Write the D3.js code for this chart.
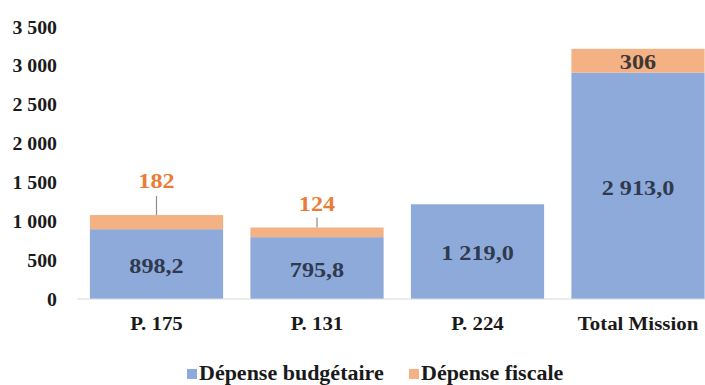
<!DOCTYPE html>
<html>
<head>
<meta charset="utf-8">
<script src="https://cdn.jsdelivr.net/npm/d3@7"></script>
<style>
  html, body { margin: 0; padding: 0; background: #fff; }
  svg { display: block; }
  text { font-family: 'Liberation Serif', serif; font-weight: bold; }
</style>
</head>
<body>
<svg id="chart" width="705" height="385"></svg>
<script>
// Programme spending, in M€
const categories = ["P. 175", "P. 131", "P. 224", "Total Mission"];
const budgetaire = [898.2, 795.8, 1219.0, 2913.0];
const fiscale = [182, 124, 0, 306];
const yTicks = [0, 500, 1000, 1500, 2000, 2500, 3000, 3500];
const seriesNames = ["Dépense budgétaire", "Dépense fiscale"];

const colors = { budget: "#8eaadb", fiscal: "#f4b183" };
const stretch = 1.1; // wide serif glyphs
const serif = "'Liberation Serif', serif";

const fr = d3.formatLocale({ decimal: ",", thousands: "\u00a0", grouping: [3], currency: ["", " €"] });
const fmtTick = fr.format(",d");
const fmtVal = fr.format(",.1f");
const fmtInt = fr.format(",d");

const svg = d3.select("#chart");

const x = d3.scaleBand()
  .domain(categories)
  .range([76.25, 718.25])
  .paddingInner(0.17)
  .paddingOuter(0.085);

const y = d3.scaleLinear().domain([0, 3500]).range([299, 27]);

// Value axis (labels only)
const yAxis = svg.append("g")
  .attr("transform", "translate(57,0)")
  .call(d3.axisLeft(y).tickValues(yTicks).tickFormat(fmtTick).tickSize(0).tickPadding(0));
yAxis.attr("font-family", null);
yAxis.select(".domain").remove();
yAxis.selectAll("text")
  .attr("x", 0)
  .attr("dy", "0.34em")
  .attr("transform", `scale(${stretch},1)`)
  .style("font-size", "18px")
  .style("font-family", serif)
  .style("font-weight", "bold")
  .attr("fill", "#1a1a1a");

const rows = categories.map((c, i) => ({ cat: c, b: budgetaire[i], f: fiscale[i] }));

// Stacked bars
svg.append("g").selectAll("rect")
  .data(rows).join("rect")
  .attr("x", d => x(d.cat))
  .attr("width", x.bandwidth())
  .attr("y", d => y(d.b))
  .attr("height", d => y(0) - y(d.b))
  .attr("fill", colors.budget);

svg.append("g").selectAll("rect")
  .data(rows.filter(d => d.f > 0)).join("rect")
  .attr("x", d => x(d.cat))
  .attr("width", x.bandwidth())
  .attr("y", d => y(d.b + d.f))
  .attr("height", d => y(d.b) - y(d.b + d.f))
  .attr("fill", colors.fiscal);

// Category axis
const xAxis = svg.append("g")
  .attr("transform", `translate(0,${y(0)})`)
  .call(d3.axisBottom(x).tickSize(0).tickPadding(0));
xAxis.attr("font-family", null);
xAxis.select(".domain").remove();
xAxis.append("line")
  .attr("x1", 77).attr("x2", 705)
  .attr("stroke", "#d9d9d9").attr("stroke-width", 1.2);
xAxis.selectAll(".tick text")
  .attr("y", 0).attr("dy", 0)
  .attr("transform", `translate(0,31) scale(${stretch},1)`)
  .style("font-size", "19px")
  .style("font-family", serif)
  .style("font-weight", "bold")
  .attr("fill", "#1a1a1a");

function stretchedText(g, px, py, str, size, fill) {
  return g.append("text")
    .attr("transform", `translate(${px},${py}) scale(${stretch},1)`)
    .attr("text-anchor", "middle")
    .attr("dy", "0.35em")
    .style("font-size", size + "px")
    .attr("fill", fill)
    .text(str);
}

const labels = svg.append("g");

// Budget values centred in the blue segment
rows.forEach(d => {
  const cx = x(d.cat) + x.bandwidth() / 2;
  stretchedText(labels, cx, (y(0) + y(d.b)) / 2 + 1, fmtVal(d.b), 22, "#2f3a4e");
});

// Fiscal values: callouts above small segments, inside the large one
const calloutRise = { "P. 175": 35, "P. 131": 24 };
const calloutLine = { "P. 175": 19, "P. 131": 10 };
rows.filter(d => d.f > 0).forEach(d => {
  const cx = x(d.cat) + x.bandwidth() / 2;
  const top = y(d.b + d.f);
  if (calloutRise[d.cat] !== undefined) {
    labels.append("line")
      .attr("x1", cx).attr("x2", cx)
      .attr("y1", top).attr("y2", top - calloutLine[d.cat])
      .attr("stroke", "#8c8c8c").attr("stroke-width", 1.2);
    stretchedText(labels, cx, top - calloutRise[d.cat], fmtInt(d.f), 22, "#ea7c36");
  } else {
    stretchedText(labels, cx, (y(d.b) + top) / 2 + 1, fmtInt(d.f), 22, "#3d3735");
  }
});

// Legend
const legend = svg.append("g");
const legendItems = [
  { name: seriesNames[0], color: colors.budget, x: 187 },
  { name: seriesNames[1], color: colors.fiscal, x: 409 }
];
legendItems.forEach(it => {
  legend.append("rect")
    .attr("x", it.x).attr("y", 369)
    .attr("width", 10).attr("height", 10)
    .attr("fill", it.color);
  legend.append("text")
    .attr("transform", `translate(${it.x + 12},380) scale(${stretch},1)`)
    .style("font-size", "20px")
    .attr("fill", "#1a1a1a")
    .text(it.name);
});
</script>
</body>
</html>
